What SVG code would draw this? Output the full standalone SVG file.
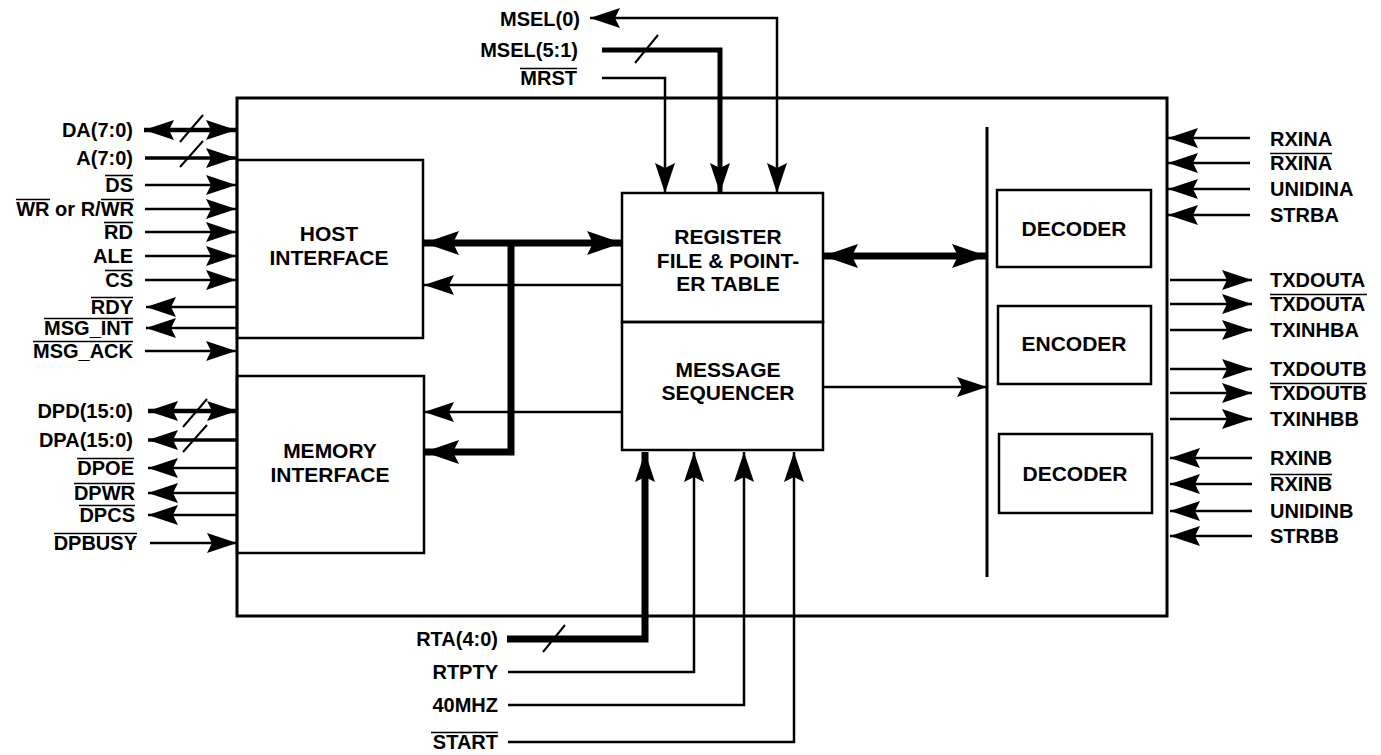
<svg xmlns="http://www.w3.org/2000/svg" width="1381" height="755" viewBox="0 0 1381 755">
<style>
text{font-family:"Liberation Sans",Arial,Helvetica,sans-serif;font-weight:bold;fill:#000}
.pin{font-size:20px}
.lbl{font-size:21px;text-anchor:middle}
.l{text-anchor:end}
.ov{fill:none;stroke:#000;stroke-width:1.6}
.box{fill:none;stroke:#000;stroke-width:2.5}
.w{fill:none;stroke:#000;stroke-width:2.5}
.w3{fill:none;stroke:#000;stroke-width:3.5}
.w4{fill:none;stroke:#000;stroke-width:4.5}
.tk{fill:none;stroke:#000;stroke-width:7}
.sl{fill:none;stroke:#000;stroke-width:2}
.a{marker-end:url(#ah)}
.aa{marker-start:url(#ah);marker-end:url(#ah)}
.b{marker-end:url(#bh)}
.bb{marker-start:url(#bh);marker-end:url(#bh)}
</style>
<defs>
<marker id="ah" markerUnits="userSpaceOnUse" markerWidth="32" markerHeight="22" viewBox="-31 -11 32 22" refX="0" refY="0" orient="auto-start-reverse"><path d="M0,0 L-30,-10 L-25,0 L-30,10 Z" fill="#000"/></marker>
<marker id="bh" markerUnits="userSpaceOnUse" markerWidth="38" markerHeight="28" viewBox="-37 -14 38 28" refX="0" refY="0" orient="auto-start-reverse"><path d="M0,0 L-35,-12 L-29,0 L-35,12 Z" fill="#000"/></marker>
</defs>
<rect width="1381" height="755" fill="#fff"/>

<g id="chip"><rect class="box" x="237" y="98" width="930" height="518" style="stroke-width:3"/></g>

<g id="host-interface">
<rect class="box" x="237" y="160" width="186" height="178"/>
<text class="lbl" x="329" y="241">HOST</text>
<text class="lbl" x="329" y="265">INTERFACE</text>
</g>
<g id="memory-interface">
<rect class="box" x="237" y="376" width="187" height="177"/>
<text class="lbl" x="330" y="458">MEMORY</text>
<text class="lbl" x="330" y="482">INTERFACE</text>
</g>
<g id="register-file">
<rect class="box" x="622" y="193" width="201" height="129"/>
<text class="lbl" x="728" y="244">REGISTER</text>
<text class="lbl" x="728" y="268">FILE &amp; POINT-</text>
<text class="lbl" x="728" y="291">ER TABLE</text>
</g>
<g id="message-sequencer">
<rect class="box" x="622" y="322" width="201" height="128"/>
<text class="lbl" x="728" y="377">MESSAGE</text>
<text class="lbl" x="728" y="400">SEQUENCER</text>
</g>
<g id="decoder-a">
<rect class="box" x="997" y="190" width="154" height="77"/>
<text class="lbl" x="1074" y="236">DECODER</text>
</g>
<g id="encoder">
<rect class="box" x="998" y="306" width="153" height="78"/>
<text class="lbl" x="1074" y="351">ENCODER</text>
</g>
<g id="decoder-b">
<rect class="box" x="999" y="434" width="153" height="79"/>
<text class="lbl" x="1075" y="481">DECODER</text>
</g>

<g id="connectors">
<path class="w4 aa" d="M144,130 H236"/>
<path class="w3 a" d="M145,158 H236"/>
<path class="w a" d="M145,185 H236"/>
<path class="w a" d="M145,209 H236"/>
<path class="w a" d="M145,232 H236"/>
<path class="w a" d="M145,256 H236"/>
<path class="w a" d="M145,280 H236"/>
<path class="w a" d="M236,307 H146"/>
<path class="w a" d="M236,328 H146"/>
<path class="w a" d="M145,351 H236"/>
<path class="w4 aa" d="M148,411 H237"/>
<path class="w3 a" d="M237,440 H148"/>
<path class="w a" d="M237,468 H148"/>
<path class="w a" d="M237,493 H148"/>
<path class="w a" d="M237,515 H148"/>
<path class="w a" d="M150,543 H237"/>
<path class="sl" d="M180,142 L203,115"/>
<path class="sl" d="M180,167 L203,141"/>
<path class="sl" d="M183,427 L207,399"/>
<path class="sl" d="M183,452 L207,425"/>
<path class="sl" d="M635,63 L658,35"/>
<path class="sl" d="M543,652 L565,625"/>
<path class="w aa" d="M590,18 H777 V193"/>
<path class="w4 a" d="M602,50 H720 V193" style="stroke-width:5"/>
<path class="w a" d="M602,78 H665 V193"/>
<path class="tk a" d="M507,639 H645 V452"/>
<path class="w a" d="M508,672 H694 V452"/>
<path class="w a" d="M508,705 H744 V452"/>
<path class="w a" d="M508,742 H794 V452"/>
<path class="tk bb" d="M424,243 H622"/>
<path class="tk b" d="M511,243 V452 H424"/>
<path class="w a" d="M622,285 H424"/>
<path class="w a" d="M622,412 H424"/>
<path class="tk bb" d="M823,256 H987"/>
<path class="w a" d="M823,387 H987"/>
<path class="w" d="M987,127 V577" style="stroke-width:3"/>
<path class="w a" d="M1250,138 H1168"/>
<path class="w a" d="M1250,163 H1168"/>
<path class="w a" d="M1250,189 H1168"/>
<path class="w a" d="M1250,215 H1168"/>
<path class="w a" d="M1170,280 H1252"/>
<path class="w a" d="M1170,304 H1252"/>
<path class="w a" d="M1170,330 H1252"/>
<path class="w a" d="M1170,369 H1252"/>
<path class="w a" d="M1170,393 H1252"/>
<path class="w a" d="M1170,419 H1252"/>
<path class="w a" d="M1252,458 H1170"/>
<path class="w a" d="M1252,484 H1170"/>
<path class="w a" d="M1252,511 H1170"/>
<path class="w a" d="M1252,536 H1170"/>
</g>

<g id="pin-labels">
<text class="pin l" x="133" y="137">DA(7:0)</text>
<text class="pin l" x="133" y="165">A(7:0)</text>
<text class="pin l" x="133" y="192">DS</text>
<text class="pin l" x="134" y="216">WR or R/WR</text>
<text class="pin l" x="133" y="239">RD</text>
<text class="pin l" x="133" y="263">ALE</text>
<text class="pin l" x="133" y="287">CS</text>
<text class="pin l" x="133" y="314">RDY</text>
<text class="pin l" x="133" y="335">MSG_INT</text>
<text class="pin l" x="133" y="358">MSG_ACK</text>
<text class="pin l" x="133" y="418">DPD(15:0)</text>
<text class="pin l" x="133" y="447">DPA(15:0)</text>
<text class="pin l" x="134" y="475">DPOE</text>
<text class="pin l" x="135" y="500">DPWR</text>
<text class="pin l" x="135" y="522">DPCS</text>
<text class="pin l" x="137" y="550">DPBUSY</text>

<text class="pin l" x="580" y="26">MSEL(0)</text>
<text class="pin l" x="578" y="57">MSEL(5:1)</text>
<text class="pin l" x="577" y="85">MRST</text>

<text class="pin l" x="498" y="646">RTA(4:0)</text>
<text class="pin l" x="498" y="679">RTPTY</text>
<text class="pin l" x="498" y="712">40MHZ</text>
<text class="pin l" x="498" y="749">START</text>

<text class="pin" x="1270" y="146">RXINA</text>
<text class="pin" x="1270" y="170">RXINA</text>
<text class="pin" x="1270" y="196">UNIDINA</text>
<text class="pin" x="1270" y="222">STRBA</text>
<text class="pin" x="1270" y="287">TXDOUTA</text>
<text class="pin" x="1270" y="311">TXDOUTA</text>
<text class="pin" x="1270" y="337">TXINHBA</text>
<text class="pin" x="1270" y="376">TXDOUTB</text>
<text class="pin" x="1270" y="400">TXDOUTB</text>
<text class="pin" x="1270" y="426">TXINHBB</text>
<text class="pin" x="1270" y="465">RXINB</text>
<text class="pin" x="1270" y="491">RXINB</text>
<text class="pin" x="1270" y="518">UNIDINB</text>
<text class="pin" x="1270" y="543">STRBB</text>
</g>

<g id="overlines">
<path class="ov" d="M105,175.5 H133"/>
<path class="ov" d="M16,199.5 H50 M101,199.5 H134"/>
<path class="ov" d="M104,222.5 H133"/>
<path class="ov" d="M105,270.5 H133"/>
<path class="ov" d="M91,297.5 H133"/>
<path class="ov" d="M44,318.5 H133"/>
<path class="ov" d="M33,341.5 H133"/>
<path class="ov" d="M77,458.5 H134"/>
<path class="ov" d="M74,483.5 H135"/>
<path class="ov" d="M79,505.5 H135"/>
<path class="ov" d="M54,533.5 H137"/>
<path class="ov" d="M520,68.5 H577"/>
<path class="ov" d="M431,732.5 H498"/>
<path class="ov" d="M1270,153.5 H1332"/>
<path class="ov" d="M1270,294.5 H1367"/>
<path class="ov" d="M1270,383.5 H1367"/>
<path class="ov" d="M1270,474.5 H1332"/>
</g>
</svg>
